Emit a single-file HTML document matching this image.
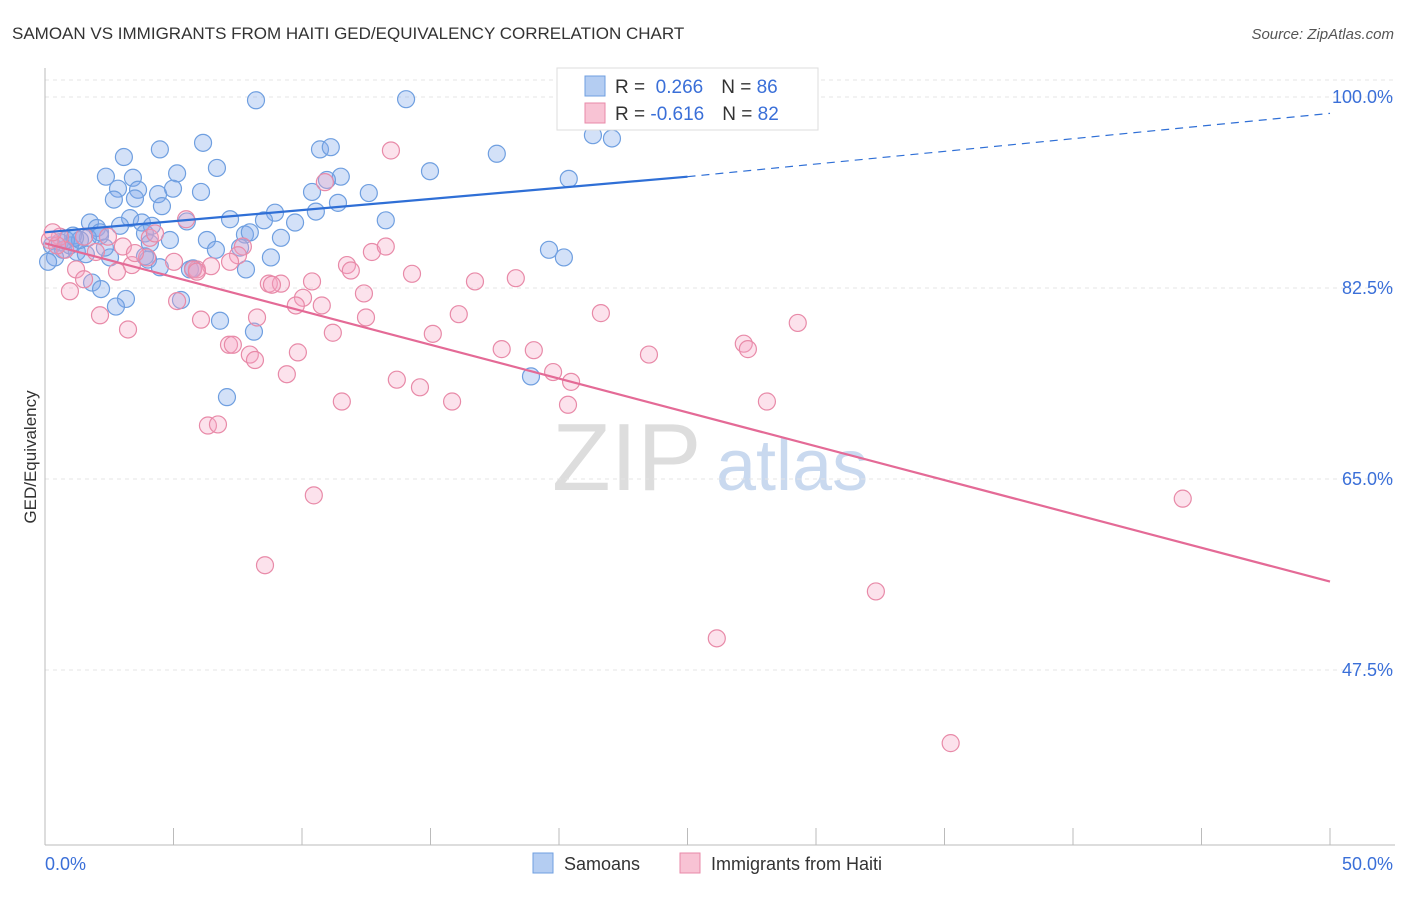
<!DOCTYPE html>
<html><head><meta charset="utf-8">
<style>
body{margin:0;background:#fff;font-family:"Liberation Sans",sans-serif;}
svg text{font-family:"Liberation Sans",sans-serif;}
</style></head>
<body>
<svg id="chart" width="1406" height="892" viewBox="0 0 1406 892" xmlns="http://www.w3.org/2000/svg">
<text x="12" y="39" font-size="17" fill="#333">SAMOAN VS IMMIGRANTS FROM HAITI GED/EQUIVALENCY CORRELATION CHART</text>
<text x="1394" y="39" font-size="15" fill="#555" font-style="italic" text-anchor="end">Source: ZipAtlas.com</text>
<g>
<text x="552" y="490" font-size="96" fill="#ddd" font-family="Liberation Serif">ZIP</text>
<text x="716" y="490" font-size="72" fill="#c9d9ef">atlas</text>
</g>
<g id="grid"></g>
<g id="axes"></g>
<g id="points"></g>
<g id="lines"></g>
<text x="36" y="457" font-size="17" fill="#333" transform="rotate(-90 36 457)" text-anchor="middle">GED/Equivalency</text>
<g>
<rect x="557" y="68" width="261" height="62" fill="#fff" stroke="#ddd"/>
<rect x="585" y="76" width="20" height="20" fill="#b4cdf2" stroke="#6f9fe0"/>
<text x="615" y="93" font-size="19" fill="#333">R = <tspan fill="#3a6fd8">&#160;0.266</tspan><tspan dx="18">N = </tspan><tspan fill="#3a6fd8">86</tspan></text>
<rect x="585" y="103" width="20" height="20" fill="#f8c3d4" stroke="#e88aa8"/>
<text x="615" y="120" font-size="19" fill="#333">R = <tspan fill="#3a6fd8">-0.616</tspan><tspan dx="18">N = </tspan><tspan fill="#3a6fd8">82</tspan></text>
</g>
<g>
<rect x="533" y="853" width="20" height="20" fill="#b4cdf2" stroke="#6f9fe0"/>
<text x="564" y="870" font-size="18" fill="#333">Samoans</text>
<rect x="680" y="853" width="20" height="20" fill="#f8c3d4" stroke="#e88aa8"/>
<text x="711" y="870" font-size="18" fill="#333">Immigrants from Haiti</text>
</g>
</svg>
<script>
const samoanX=[8.21,14.05,6.15,4.47,3.07,10.70,11.12,17.58,21.32,22.06,14.98,20.38,2.37,3.42,5.14,6.69,2.84,3.62,4.98,6.07,4.40,10.39,11.51,12.60,10.97,2.68,3.50,4.55,11.40,10.54,8.95,8.52,9.73,13.26,7.20,5.52,3.31,1.75,2.02,2.92,3.77,4.16,2.14,3.89,4.86,6.30,7.78,7.97,9.18,7.59,6.65,4.08,1.67,1.09,0.58,0.27,0.70,1.24,1.59,0.39,2.53,4.01,4.47,5.76,7.82,8.79,19.61,20.19,1.83,2.18,3.15,2.76,5.29,6.81,8.13,18.91,7.08,0.12,0.97,1.36,2.33,3.89,5.64,2.14,0.82,1.17];
const samoanY=[99.7,99.8,95.8,95.2,94.5,95.2,95.4,94.8,96.5,96.2,93.2,92.5,92.7,92.6,93.0,93.5,91.6,91.5,91.6,91.3,91.1,91.3,92.7,91.2,92.4,90.6,90.7,90.0,90.3,89.5,89.4,88.7,88.5,88.7,88.8,88.6,88.9,88.5,88.0,88.2,88.5,88.2,87.6,87.5,86.9,86.9,87.4,87.6,87.1,86.2,86.0,86.6,87.1,87.3,86.7,86.4,86.0,85.8,85.6,85.3,85.3,85.1,84.4,84.3,84.2,85.3,86.0,85.3,83.0,82.4,81.5,80.8,81.4,79.5,78.5,74.4,72.5,84.9,86.4,86.9,86.2,85.4,84.2,87.3,86.9,87.1];
const haitiX=[13.46,10.89,5.49,2.45,3.03,0.78,4.08,4.28,1.52,7.70,12.72,13.26,3.97,5.02,5.91,6.46,3.38,2.80,1.21,1.52,0.97,2.14,3.23,5.14,7.51,8.71,9.18,8.83,10.39,11.75,11.90,12.41,14.28,16.73,18.32,10.04,9.76,10.77,12.49,6.07,8.25,16.10,21.63,29.29,7.16,7.31,7.97,8.17,9.84,11.20,15.09,17.77,19.02,23.50,27.19,27.35,9.41,13.69,14.59,19.77,20.47,11.55,15.84,20.35,28.09,6.34,6.73,10.46,8.56,32.33,26.14,35.24,44.27,0.58,0.19,1.98,0.47,3.50,7.20,5.76,5.91,0.3];
const haitiY=[95.1,92.2,88.8,87.2,86.3,86.0,87.1,87.5,87.2,86.3,85.8,86.3,85.3,84.9,84.2,84.5,84.6,84.0,84.2,83.3,82.2,80.0,78.7,81.3,85.5,82.9,82.9,82.8,83.1,84.6,84.1,82.0,83.8,83.1,83.4,81.6,80.9,80.9,79.8,79.6,79.8,80.1,80.2,79.3,77.3,77.3,76.4,75.9,76.6,78.4,78.3,76.9,76.8,76.4,77.4,76.9,74.6,74.1,73.4,74.8,73.9,72.1,72.1,71.8,72.1,69.9,70.0,63.5,57.1,54.7,50.4,40.8,63.2,87.2,86.9,85.8,86.4,85.7,84.9,84.2,84.0,87.6];
const samoanTrendX=[0,25,50];
const samoanTrendY=[87.6,92.7,98.5];
const haitiTrendX=[0,50];
const haitiTrendY=[86.6,55.6];
const yTicks=[100,82.5,65,47.5];
const yTickLabels=["100.0%","82.5%","65.0%","47.5%"];
const xTicks=[0,5,10,15,20,25,30,35,40,45,50];

const NS="http://www.w3.org/2000/svg";
const sx=v=>45+v*25.7;
const sy=v=>97+(100-v)*191/17.5;
function mk(tag,attrs,parent){const e=document.createElementNS(NS,tag);for(const k in attrs)e.setAttribute(k,attrs[k]);parent.appendChild(e);return e;}
const grid=document.getElementById('grid'),axes=document.getElementById('axes'),pts=document.getElementById('points'),lines=document.getElementById('lines');
let g=mk('line',{x1:45,x2:1395,y1:80,y2:80,stroke:'#e4e4e4','stroke-dasharray':'4,4'},grid);


yTicks.forEach((t,i)=>{
  const l=mk('line',{x1:45,x2:1395,y1:sy(t),y2:sy(t),stroke:'#e4e4e4','stroke-dasharray':'4,4'},grid);
  
  
  const tx=mk('text',{x:1393,y:sy(t)+6,'font-size':18,fill:'#3a6fd8','text-anchor':'end'},axes);
  tx.textContent=yTickLabels[i];
  
  
});
let a=mk('line',{x1:45,x2:45,y1:68,y2:845,stroke:'#bbb'},axes);


a=mk('line',{x1:45,x2:1395,y1:845,y2:845,stroke:'#bbb'},axes);


xTicks.forEach(t=>{
  const l=mk('line',{x1:sx(t),x2:sx(t),y1:828,y2:845,stroke:'#bbb'},axes);
  
  
});
let xl=mk('text',{x:45,y:870,'font-size':18,fill:'#3a6fd8'},axes);xl.textContent='0.0%';


xl=mk('text',{x:1393,y:870,'font-size':18,fill:'#3a6fd8','text-anchor':'end'},axes);xl.textContent='50.0%';



samoanX.forEach((x,i)=>{
  const c=mk('circle',{cx:sx(x),cy:sy(samoanY[i]),r:8.5,fill:'rgba(130,170,235,0.35)',stroke:'#6f9fe0','stroke-width':1.2},pts);
  
  
});
haitiX.forEach((x,i)=>{
  const c=mk('circle',{cx:sx(x),cy:sy(haitiY[i]),r:8.5,fill:'rgba(245,165,195,0.32)',stroke:'#e88aa8','stroke-width':1.2},pts);
  
  
});
let tl=mk('line',{x1:sx(samoanTrendX[0]),y1:sy(samoanTrendY[0]),x2:sx(samoanTrendX[1]),y2:sy(samoanTrendY[1]),stroke:'#2f6fd6','stroke-width':2.2},lines);


tl=mk('line',{x1:sx(samoanTrendX[1]),y1:sy(samoanTrendY[1]),x2:sx(samoanTrendX[2]),y2:sy(samoanTrendY[2]),stroke:'#2f6fd6','stroke-width':1.2,'stroke-dasharray':'8,6'},lines);


tl=mk('line',{x1:sx(haitiTrendX[0]),y1:sy(haitiTrendY[0]),x2:sx(haitiTrendX[1]),y2:sy(haitiTrendY[1]),stroke:'#e46a96','stroke-width':2.2},lines);


</script>
</body></html>
